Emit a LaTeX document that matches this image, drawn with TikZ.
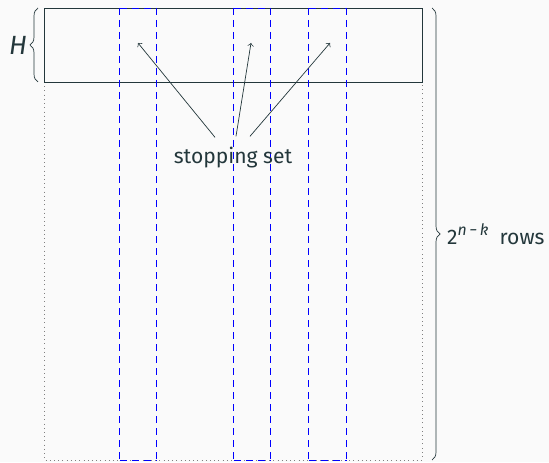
\documentclass[tikz,border=0pt]{standalone}
\usepackage{fontspec}
\setmainfont{Fira Sans}
\usepackage{tikz}
\usetikzlibrary{arrows, positioning, calc, decorations.pathreplacing}
\definecolor{mDark}{HTML}{23373B}
\definecolor{mBack}{HTML}{FAFAFA}

\begin{document}
\begin{tikzpicture}[
    font=\fontsize{12}{14}\selectfont, color=mDark,
    setcol/.style={draw=blue, line width=0.55pt, dash pattern=on 0.14cm off 0.1cm},
    outline/.style={draw=gray, dotted, thin},
    brc/.style={decorate, decoration={brace, amplitude=0.16cm}, thin, draw=mDark},
    arrow/.style={thin, ->, draw=mDark}
]
\fill [mBack] (0,0) rectangle (10.98,9.24);
\useasboundingbox (0,0) rectangle (10.98,9.24);
% whole table and the parity check part
\draw [outline] (0.88,7.6) -- (0.88,0.04) -- (8.44,0.04) -- (8.44,7.6);
\draw [thin, draw=mDark] (0.88,7.6) rectangle (8.44,9.08);
% columns of the stopping set
\foreach \xa/\xb in {2.39/3.13, 4.67/5.41, 6.17/6.93} {
  \draw [setcol] (\xa,9.08) -- (\xa,0.04);
  \draw [setcol] (\xb,9.08) -- (\xb,0.04);
  \draw [setcol] (\xa,9.08) -- (\xb,9.08);
  \draw [setcol] (\xa,0.04) -- (\xb,0.04);
}
% braces
\draw [brc] (0.76,7.6) -- (0.76,9.08) node (hl) [midway, left=0.1cm, font=\fontsize{15}{17}\selectfont] {\itshape H};
\draw [brc] (8.64,9.08) -- (8.64,0.04) node (rl) [midway, right=0.18cm] {2\raisebox{0.8ex}{\fontsize{9}{10}\selectfont\itshape n\,−\,k}\ \ rows};
% label and arrows
\node (ss) at (4.66,6.08) {stopping set};
\coordinate (c1) at (2.76,8.38);
\coordinate (c2) at (5.02,8.38);
\coordinate (c3) at (6.60,8.38);
\draw [arrow] ($(ss.north)+(-0.36,0.08)$) -- (c1);
\draw [arrow] ($(ss.north)+(0.06,0.1)$) -- (c2);
\draw [arrow] ($(ss.north)+(0.34,0.1)$) -- (c3);
\end{tikzpicture}
\end{document}
